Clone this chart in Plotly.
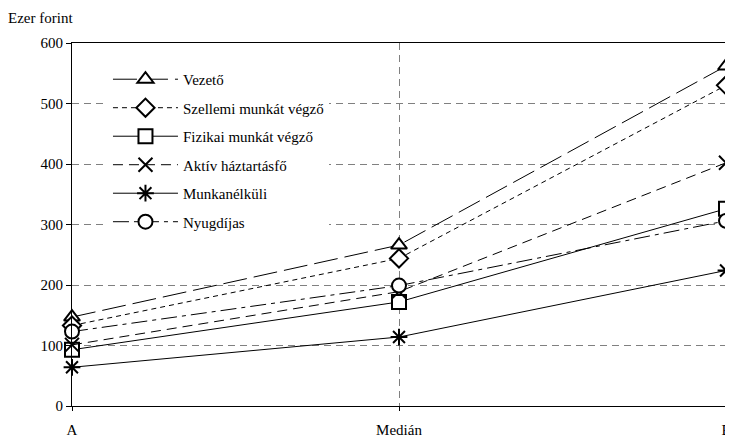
import plotly.graph_objects as go

categories = ['A', 'Medián', 'E']

vezeto = [147, 266, 562]
szellemi = [133, 244, 530]
fizikai = [93, 172, 326]
aktiv = [101, 189, 402]
munkanelkuli = [64, 114, 224]
nyugdijas = [123, 199, 306]

series = [
    ('Vezető', vezeto, 'triangle-up', '24px,7px'),
    ('Szellemi munkát végző', szellemi, 'diamond', '5px,4px'),
    ('Fizikai munkát végző', fizikai, 'square', 'solid'),
    ('Aktív háztartásfő', aktiv, 'x-thin', '10px,6px'),
    ('Munkanélküli', munkanelkuli, 'asterisk', 'solid'),
    ('Nyugdíjas', nyugdijas, 'circle', '16px,5px,4px,5px'),
]

font_family = 'Times New Roman, Liberation Serif, DejaVu Serif, serif'

fig = go.Figure()

for i, (name, values, symbol, dash) in enumerate(series):
    fig.add_trace(go.Scatter(
        x=categories,
        y=values,
        name=name,
        legendgroup=name,
        mode='lines+markers',
        cliponaxis=False,
        line={'color': 'black', 'width': 1, 'dash': dash},
        marker={'symbol': symbol, 'size': 14, 'color': 'white',
                'line': {'color': 'black', 'width': 2}},
    ))

grid_dash = '7px,5px'

# page body has an 8px margin, so the figure is sized to fit the window
fig.update_layout(
    width=725, height=433,
    margin={'l': 64, 'r': 2, 't': 35, 'b': 35},
    paper_bgcolor='white', plot_bgcolor='white',
    font={'family': font_family, 'size': 14, 'color': 'black'},
    title={'text': 'Ezer forint', 'x': 0.0, 'xanchor': 'left',
           'y': 0.977, 'yanchor': 'middle',
           'font': {'family': font_family, 'size': 15, 'color': 'black'}},
    showlegend=True,
    legend={'x': 0.055, 'y': 0.945, 'xanchor': 'left', 'yanchor': 'top',
            'bgcolor': 'white', 'borderwidth': 0,
            'traceorder': 'grouped', 'tracegroupgap': 6, 'itemwidth': 65,
            'font': {'family': font_family, 'size': 15, 'color': 'black'}},
    xaxis={'type': 'category', 'range': [0, 2],
           'showline': True, 'linecolor': 'black', 'linewidth': 1, 'mirror': True,
           'showgrid': True, 'gridcolor': '#808080', 'griddash': grid_dash, 'gridwidth': 1,
           'ticks': 'outside', 'ticklen': 4, 'tickcolor': 'black',
           'ticklabelstandoff': 6,
           'tickfont': {'family': font_family, 'size': 15, 'color': 'black'},
           'zeroline': False},
    yaxis={'range': [0, 600], 'dtick': 100, 'tick0': 0,
           'showline': True, 'linecolor': 'black', 'linewidth': 1,
           'showgrid': True, 'gridcolor': '#808080', 'griddash': grid_dash, 'gridwidth': 1,
           'ticks': 'outside', 'ticklen': 5, 'tickcolor': 'black',
           'tickfont': {'family': font_family, 'size': 15, 'color': 'black'},
           'zeroline': False},
)

fig.write_html('out.html')
